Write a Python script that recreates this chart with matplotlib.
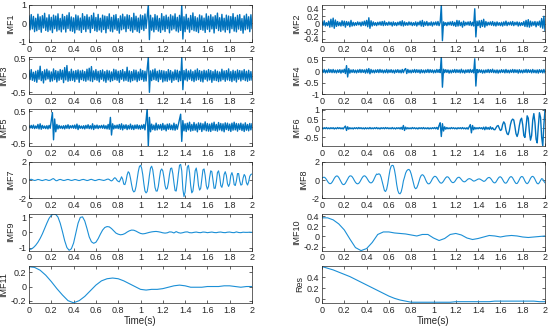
import numpy as np
import matplotlib
matplotlib.use("Agg")
import matplotlib.pyplot as plt
from matplotlib.ticker import FormatStrFormatter

plt.rcParams['font.family'] = ['Liberation Sans', 'DejaVu Sans']

# values in hundredths, sampled evenly over 0..2 s
imf1 = [40,-35,48,-30,38,-45,28,-40,50,-33, 36,-48,42,-25,55,-38,30,-44,47,-36,
        33,-50,45,-29,40,-42,52,-35,27,-46, 49,-31,37,-47,44,-28,58,-40,35,-43,
        30,-52,46,-34,41,-37,29,-49,53,-32, 38,-45,47,-30,34,-50,43,-27,56,-39,
        32,-44,49,-36,28,-47,45,-33,40,-51, 37,-29,52,-42,33,-46,44,-31,48,-38,
        26,-53,41,-35,50,-30,36,-45,47,-28, 43,-40,31,-48,55,-34,39,-43,29,-50,
        46,-32,42,-39,51,-27,35,100,-88,44, -37,30,-46,48,-33,41,-42,27,-49,53,
        -35,38,-44,45,-29,34,-51,47,-36,40, -30,52,-41,33,-47,44,-38,100,-85,36,
        -45,49,-31,28,-48,43,-34,57,-40,37, -43,30,-50,46,-33,41,-37,29,-49,52,
        -32,39,-45,47,-30,35,-52,42,-28,56, -39,31,-44,49,-36,28,-47,45,-34,40,
        -51,37,-29,53,-42,33,-46,44,-31,48, -38,26,-53,41,-35,50,-30,36,-45,47,-28]

imf2 = [5,-4,8,-6,3,-5,7,-9,12,-8, 15,-12,10,-7,6,-5,4,-6,8,-5,
        7,-9,6,-4,5,-8,9,-6,4,-5, 3,-4,5,-3,4,-6,5,-4,7,-5,
        9,-8,16,-12,8,-6,5,-4,3,-5, 4,-3,5,-4,6,-5,7,-4,3,-4,
        5,-3,4,-6,5,-4,3,-5,4,-3, 6,-5,8,-6,5,-4,3,-4,5,-3,
        4,-5,3,-4,5,-6,4,-3,7,-6, 9,-7,5,-4,6,-5,3,-4,5,-6,
        4,-3,5,-4,6,-5,4,50,-45,5, -4,3,-5,4,-3,5,-4,6,-5,4,
        -7,9,-6,8,-5,4,-9,7,-5,4, -3,5,-4,6,-5,4,-6,40,-35,7,
        -5,8,-10,9,-7,12,-9,6,-5,4, -3,5,-4,6,-5,4,-6,5,-4,3,
        -5,4,-6,5,-4,7,-5,4,-3,5, -4,6,-5,4,-3,5,-6,4,-5,3,
        -4,6,-7,9,-8,11,-9,7,-6,5, -4,6,-8,5,-4,7,-9,14,-12,20,-18]

imf3 = [15,-12,18,-14,10,-17,13,-20,16,-11, 28,-15,12,-22,17,-13,19,-10,14,-18,
        11,-16,20,-12,15,-19,13,-14,18,-11, 16,-21,24,-13,30,-17,12,-15,19,-14,
        13,-18,15,-11,17,-20,14,-12,16,-15, 12,-17,19,-13,22,-16,27,-18,14,-12,
        18,-14,13,-19,15,-11,17,-16,12,-20, 16,-13,14,-18,11,-15,19,-12,17,-14,
        13,-20,15,-11,18,-16,12,-14,25,-17, 14,-19,12,-15,17,-13,16,-18,11,-14,
        19,-12,15,-17,13,-16,18,55,-50,14, -15,17,-12,20,-14,13,-18,16,-11,15,
        -19,14,-16,12,-17,18,-13,15,-20,11, -14,17,-12,16,-18,13,-15,55,-42,15,
        -13,19,-16,14,-11,17,-15,12,-18,16, -14,20,-12,15,-17,13,-19,16,-11,14,
        -16,18,-13,15,-20,12,-14,17,-15,13, -18,11,-16,19,-12,14,-17,15,-13,20,
        -15,12,-18,16,-14,13,-19,17,-11,15, -16,14,-12,18,-15,13,-17,16,-14,12,-13]

imf4 = [6,-5,8,-7,5,-6,9,-5,7,-6, 8,-6,5,-7,6,-5,7,-8,6,-5,
        9,-10,25,-25,12,-8,6,-5,7,-6, 5,-7,6,-5,8,-6,7,-5,6,-8,
        9,-7,12,-11,8,-6,5,-7,6,-5, 7,-6,8,-5,6,-7,5,-6,8,-7,
        6,-5,7,-6,5,-8,6,-5,7,-6, 5,-7,8,-6,7,12,-10,8,-6,5,
        -7,6,-5,8,-6,7,-5,6,-8,7, -6,5,-7,6,-5,8,-6,7,-5,6,
        -7,5,-6,8,-5,7,-6,65,-70,9, -6,7,-5,6,-8,5,-7,6,-5,8,
        -6,7,-5,6,-7,9,-6,5,-8,6, -5,7,-6,8,-5,6,-7,55,-65,8,
        -6,7,-5,6,-8,5,-7,6,-5,8, -6,7,-5,9,-6,5,-7,6,-8,5,
        -6,7,-5,6,-7,8,-6,5,-7,6, -5,8,-6,7,-5,6,-8,7,-6,5,
        -7,6,-5,8,-6,7,-5,6,-7,8, -6,5,-7,6,-8,7,-5,6,-7,8,-6]

imf5 = [4,-3,5,-4,6,-5,3,-4,8,-6, 10,-7,5,-4,3,-5,4,-6,5,-4,
        20,45,-40,25,-15,8,-6,5,-4,3, -5,4,-6,5,-4,7,-5,4,-3,5,
        -4,6,-5,9,-8,5,-4,3,-5,4, -6,5,-4,7,-5,4,-6,10,-8,5,
        -4,6,-5,4,-3,5,-4,6,-5,4, -6,8,-7,30,-25,10,-6,5,-4,6,
        -5,8,-7,10,-9,6,-5,7,-8,5, -6,9,-7,5,-8,6,-5,7,-6,5,
        -7,6,-5,8,-9,20,60,-60,30,-15, 9,-8,6,-10,12,-9,7,-6,8,-10,
        11,-8,6,-12,9,-7,10,-8,6,-9, 12,-10,8,-7,9,25,40,-45,20,-12,
        10,-14,12,-9,15,-13,8,-11,14,-10, 9,-15,13,-8,12,-14,10,-9,16,-12,
        11,-13,9,-14,12,-10,15,-11,8,-13, 14,-9,11,-12,10,-15,13,-8,12,-11,
        9,-14,12,-10,15,-9,11,-13,10,-8, 12,-11,9,-14,13,-10,8,-12,11,-9,10]

imf6 = [2,-3,3,-2,4,-3,2,-3,3,-2, 3,-4,2,-3,4,-2,3,-3,2,-4,
        5,12,-12,8,-5,3,-3,2,-4,3, -2,3,-3,4,-2,3,-3,2,-4,3,
        -3,2,-3,4,-3,2,-3,3,-2,4, -3,2,-4,3,-2,3,-3,4,-2,3,
        -3,2,-3,4,-3,2,-4,3,-2,3, -4,5,-6,15,-12,6,-4,3,-3,2,
        -3,4,-2,3,-3,2,-4,3,-2,3, -3,4,-3,2,-3,3,-4,2,-3,3,
        -2,4,-3,5,-6,15,30,-45,25,-15, 8,-5,4,-3,2,-3,4,-2,3,-3,
        2,-4,3,-2,3,-3,4,-3,2,-4, 3,-5,8,20,-25,15,-8,5,-4,3,
        -3,4,-2,3,-5,6,-8,7,-5,4, -6,8,-5,3,-7,-8,2,12,15,0,
        -12,-8,20,35,25,-10,-30,-35,-15,20, 42,50,45,10,-30,-45,-25,15,45,55,
        20,-40,-50,10,68,55,-20,-65,-40,45, 80,30,-60,-80,10,85,60,-50,-97,20,100]

imf7 = [0,5,8,4,-2,-5,-3,2,6,4, 0,-4,-6,-2,3,5,2,-3,-5,-2,
        4,12,15,5,-6,-8,-2,4,6,3, -2,-5,-4,0,4,6,3,-2,-5,-3,
        1,5,4,0,-4,-6,-3,2,5,6, 2,-3,-6,-4,1,5,7,3,-2,-6,
        -5,0,4,6,3,-1,-4,-5,-2,3, 8,10,5,-5,-10,-2,15,25,15,-5,
        -15,-20,5,35,10,-45,-50,-10,55,90, 75,20,-50,-110,-130,-120,-70,10,90,145,
        160,130,60,-40,-120,-140,-125,-50,50,130, 150,110,20,-80,-120,-120,-70,20,100,120,
        100,30,-60,-100,-90,-30,60,125,130,70, -30,-115,-120,-40,70,160,170,100,-100,-180,
        -130,10,140,160,80,-60,-140,-120,-20,100, 130,60,-60,-110,-90,10,110,120,50,-60,
        -100,-70,30,100,90,0,-90,-90,-20,80, 100,40,-60,-80,-30,60,90,50,-40,-70,
        -40,50,80,40,-50,-60,-10,70,70,-10, -55,-50,20,60,40,-30,-55,-20,40,60,65]

imf8 = [20,28,30,22,5,-15,-32,-40,-38,-25, -5,18,35,44,42,28,5,-20,-40,-50,
        -48,-35,-12,12,32,44,45,36,18,-5, -25,-38,-42,-36,-20,2,24,40,46,40,
        25,5,-15,-28,-32,-25,-8,18,45,65, 60,68,60,30,-20,-75,-115,-125,-100,-40,
        40,110,150,160,155,110,40,-50,-115,-145, -150,-130,-80,-10,30,75,100,112,115,100,
        65,15,-40,-80,-95,-85,-55,-15,25,50, 58,50,30,0,-25,-40,-42,-32,-12,12,
        30,40,38,25,5,-15,-30,-35,-28,-12, 8,25,35,33,20,0,-18,-28,-28,-18,
        0,18,28,30,20,5,-10,-18,-20,-12, 0,10,15,12,5,-5,-12,-10,-3,5,
        10,12,8,0,-8,-15,-12,0,15,25, 28,20,5,-15,-28,-32,-22,-2,18,32,
        35,25,5,-18,-32,-35,-22,0,22,35, 36,22,0,-22,-38,-38,-20,5,28,38,
        35,15,-12,-32,-40,-30,-8,18,35,40, 30,8,-18,-38,-42,-28,-5,15,10,-15,-30]

imf9 = [-113,-110,-100,-85,-65,-40,-10,25,60,92, 112,121,118,100,60,5,-55,-100,-118,-108,
        -70,-5,60,98,102,75,25,-30,-62,-72, -65,-42,-12,15,32,38,36,25,10,-5,
        -12,-16,-14,-8,2,10,15,14,8,0, -7,-10,-8,-4,0,3,5,6,4,1,
        -3,-5,-3,3,2,-4,5,-2,-5,-2, 2,3,-2,-3,0,2,-1,-2,2,1,
        -2,0,2,-1,-2,1,2,-1,-2,1, 2,-1,-2,3,-1,-2,1,0,0,1, 0]

imf10 = [37,37,33,25,13,-5,-22,-28,-24,-12, 4,9,9,7,6,5,3,1,4,4,
         -3,-8,-4,4,6,3,-3,-6,-4,-1, 2,1,-1,1,2,1,-1,-2,-1,0, 1]

imf11 = [28,27,23,16,7,-3,-12,-20,-23,-20, -14,-6,2,8,11,12,11,8,4,0,
         -4,-5,-4,-4,-3,-1,1,2,1,-1, -1,-1,0,0,0,1,1,0,-1,0, 0]

res = [59,56,53,49,45,41,36,31,26,21, 16,11,6,2,-1,-3,-5,-5,-5,-5,
       -5,-5,-5,-5,-4,-4,-4,-4,-4,-4, -4,-3,-3,-3,-3,-3,-3,-3,-3,-4, -4]

names = ['IMF1', 'IMF2', 'IMF3', 'IMF4', 'IMF5', 'IMF6',
         'IMF7', 'IMF8', 'IMF9', 'IMF10', 'IMF11', 'Res']
series = [imf1, imf2, imf3, imf4, imf5, imf6, imf7, imf8, imf9, imf10, imf11, res]
ylims = [(-1, 1), (-0.48, 0.5), (-0.55, 0.55), (-1, 0.62), (-0.6, 0.55), (-0.98, 1.03),
         (-2, 2), (-2, 2), (-1.2, 1.22), (-0.28, 0.45), (-0.23, 0.29), (-0.06, 0.6)]
yticks = [[-1, 0, 1], [-0.4, -0.2, 0, 0.2, 0.4], [-0.5, 0, 0.5], [-1, -0.5, 0, 0.5],
          [-0.5, 0, 0.5], [-0.5, 0, 0.5, 1], [-2, 0, 2], [-2, 0, 2], [-1, 0, 1],
          [-0.2, 0, 0.2, 0.4], [-0.2, 0, 0.2], [0, 0.2, 0.4]]

W, H = 550, 327
fig = plt.figure(figsize=(5.5, 3.27), dpi=100)
col_x = [29, 322]
ax_w = 223
ax_h = 36.8
dense_col = '#0072BD'
smooth_col = '#1b8fd6'
edge = '#262626'

for k in range(12):
    row = k // 2
    col = k % 2
    top = 5 + 52.2 * row
    ax = fig.add_axes([col_x[col] / W, 1 - (top + ax_h) / H, ax_w / W, ax_h / H])
    vals = np.array(series[k]) / 100.0
    t = np.linspace(0, 2, len(vals))
    if k < 6:
        ax.plot(t, vals, color=dense_col, lw=1.0)
    else:
        ax.plot(t, vals, color=smooth_col, lw=0.8)
    ax.set_xlim(0, 2)
    ax.set_ylim(*ylims[k])
    ax.set_xticks(np.arange(0, 2.01, 0.2))
    ax.set_yticks(yticks[k])
    ax.xaxis.set_major_formatter(FormatStrFormatter('%g'))
    ax.yaxis.set_major_formatter(FormatStrFormatter('%g'))
    ax.tick_params(direction='in', length=2, width=0.5, top=True, right=True,
                   labelsize=6.5, pad=2, colors=edge)
    for s in ax.spines.values():
        s.set_linewidth(0.5)
        s.set_color(edge)
    ax.set_ylabel(names[k], fontsize=6.5, color=edge, labelpad=2)
    if row == 5:
        ax.set_xlabel('Time(s)', fontsize=7, color=edge, labelpad=1)

fig.savefig('out.png', dpi=100)
